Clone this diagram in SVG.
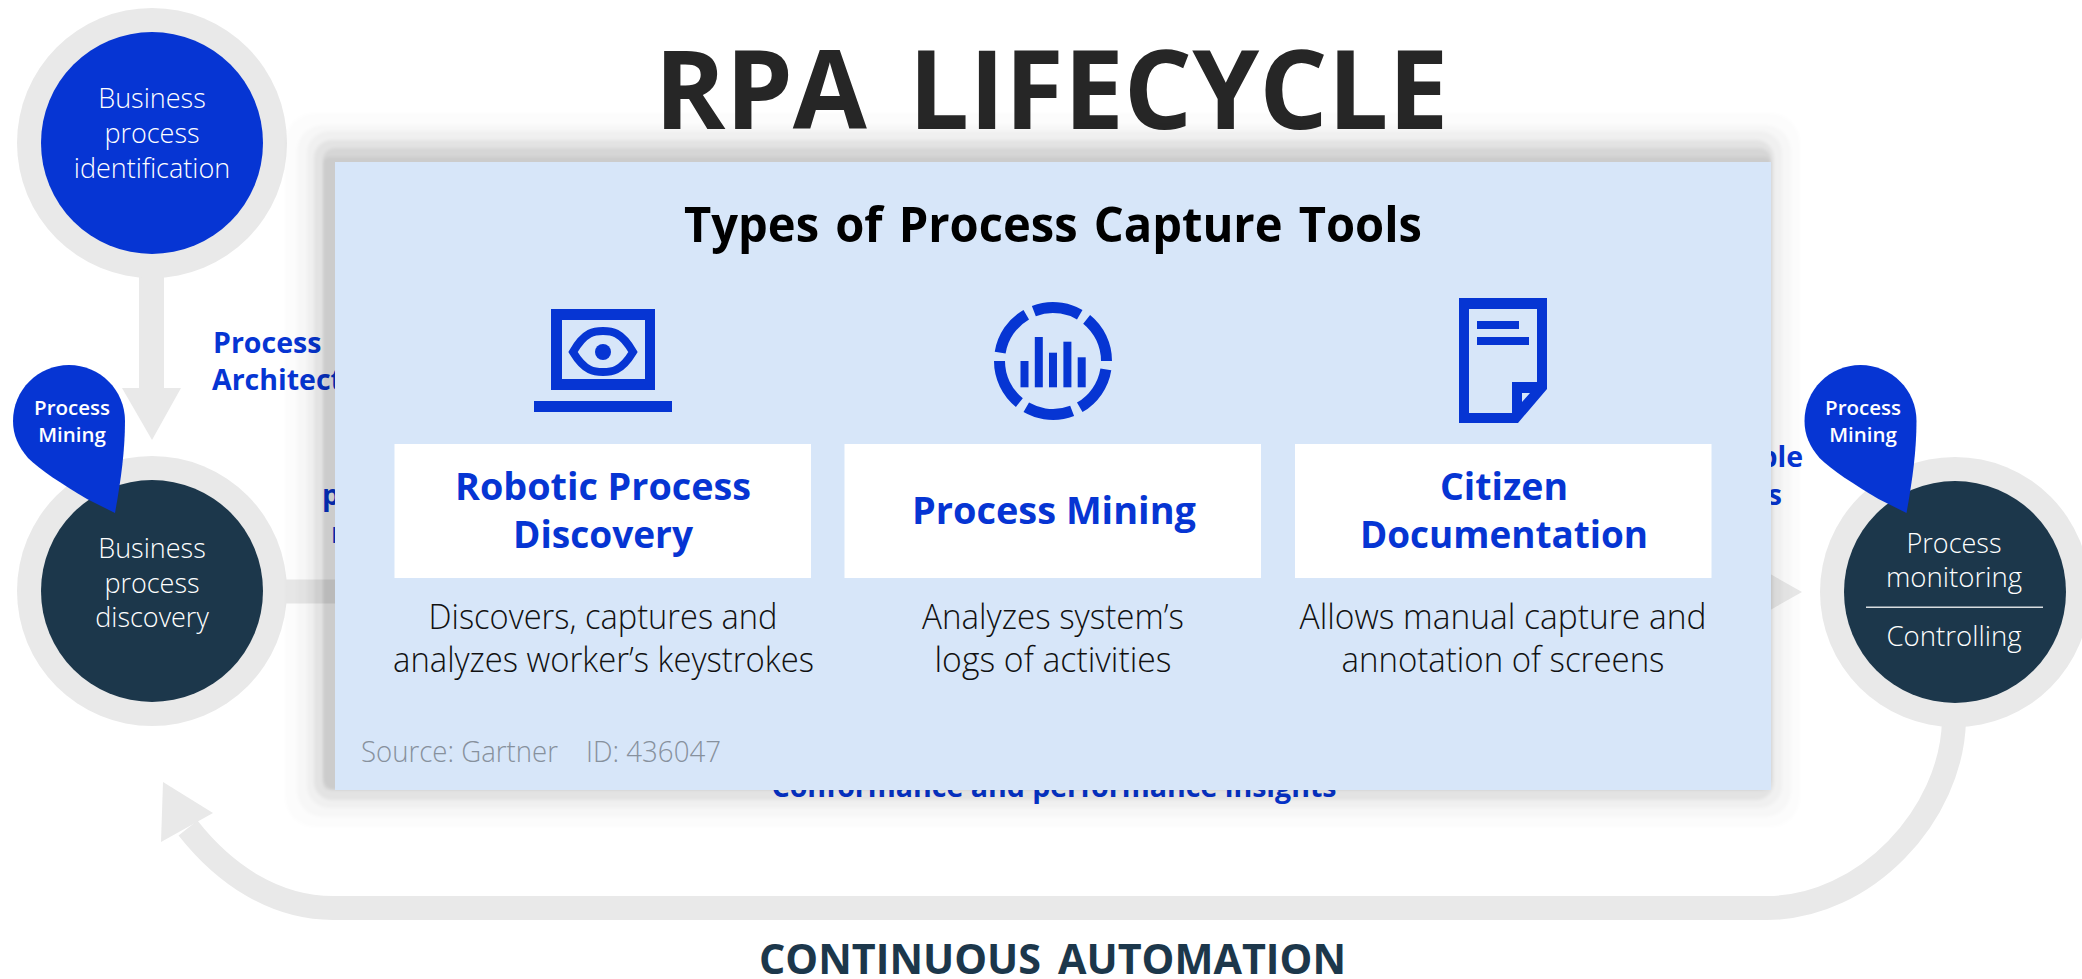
<svg xmlns="http://www.w3.org/2000/svg" width="2082" height="979" viewBox="0 0 2082 979">
<style>
text{font-family:"Open Sans","Noto Sans","Liberation Sans",sans-serif;text-anchor:middle}
.ring{fill:#e9e9e9}
.lbl{font-size:27px;font-weight:300;fill:#fff}
.pin{fill:#0635d3}
.pt{font-size:20.5px;font-weight:600;fill:#fff}
.blue{fill:#0635d3;font-weight:700}
.hid{font-size:28.5px}
.bt{font-size:38px;font-weight:700;fill:#0635d3}
.box{fill:#fff}
.desc{font-size:34px;font-weight:300;fill:#111}
.ic{fill:#0635d3}
.sh{fill:#000}
.src{font-size:29px;font-weight:300;fill:#87919d;text-anchor:start}
</style>
<defs>
<path id="pinshape" d="M115,513 L87,499 C62,484 40,470 28,458 C18,446 13,435 13,421 C13,390 38,365 69,365 C100,365 125,390 125,421 C125,450 121,480 115,513 Z"/>
<filter id="soft" x="-5%" y="-5%" width="110%" height="110%"><feGaussianBlur stdDeviation="1.500"/></filter>
</defs>
<g id="connectors" fill="#e9e9e9">
<polygon points="139,270 164,270 164,388 181,388 152,440 122,388 139,388"/>
<rect x="280" y="579.500" width="1475" height="24"/>
<polygon points="1750,562.500 1750,621.500 1802,592"/>
<path d="M1954,720 C1952,815 1865,908 1767,908 L333,908 C275,908 225,875 188,828" fill="none" stroke="#e9e9e9" stroke-width="24"/>
<polygon points="163,782 213,813 161,842"/>
</g>
<g id="title"><text x="1051.500" y="129" font-size="110" font-weight="700" fill="#262626" word-spacing="14" textLength="794" lengthAdjust="spacingAndGlyphs">RPA LIFECYCLE</text></g>
<g id="node-identification">
<circle class="ring" cx="152" cy="143" r="135"/><circle cx="152" cy="143" r="111" fill="#0635d3"/>
<text class="lbl" x="152" y="108">Business</text><text class="lbl" x="152" y="143">process</text><text class="lbl" x="152" y="178">identification</text>
</g>
<g id="node-discovery">
<circle class="ring" cx="152" cy="591" r="135"/><circle cx="152" cy="591" r="111" fill="#1c374b"/>
<text class="lbl" x="152" y="558">Business</text><text class="lbl" x="152" y="593">process</text><text class="lbl" x="152" y="627">discovery</text>
</g>
<g id="node-monitoring">
<circle class="ring" cx="1955" cy="592" r="135"/><circle cx="1955" cy="592" r="111" fill="#1c374b"/>
<text class="lbl" x="1954" y="553">Process</text><text class="lbl" x="1954" y="587" textLength="136" lengthAdjust="spacingAndGlyphs">monitoring</text>
<rect x="1866" y="606.500" width="177" height="1.500" fill="#d8dde0"/>
<text class="lbl" x="1954" y="646" textLength="135" lengthAdjust="spacingAndGlyphs">Controlling</text>
</g>
<g id="pin-left"><use href="#pinshape" class="pin"/><text class="pt" x="72" y="415">Process</text><text class="pt" x="72" y="442">Mining</text></g>
<g id="pin-right"><use href="#pinshape" class="pin" x="1791.500"/><text class="pt" x="1863" y="415">Process</text><text class="pt" x="1863" y="442">Mining</text></g>
<g id="hidden-labels">
<text class="blue hid" x="213" y="353" style="text-anchor:start">Process</text>
<text class="blue hid" x="212" y="390" style="text-anchor:start">Architect</text>
<text class="blue hid" x="322" y="505" style="text-anchor:start">p</text>
<text class="blue hid" x="331" y="543" style="text-anchor:start">r</text>
<text class="blue hid" x="1803" y="467" style="text-anchor:end">ble</text>
<text class="blue hid" x="1782" y="505" style="text-anchor:end">s</text>
<text class="blue" font-size="29" x="1054" y="797" textLength="565" lengthAdjust="spacingAndGlyphs">Conformance and performance insights</text>
</g>
<g id="panel-shadow" class="sh" filter="url(#soft)">
<rect x="285" y="113" width="1515" height="714" rx="30" opacity=".012"/>
<rect x="297" y="125" width="1494" height="692" rx="26" opacity=".022"/>
<rect x="307" y="131" width="1475" height="677" rx="22" opacity=".03"/>
<rect x="314" y="140" width="1460" height="660" rx="18" opacity=".055"/>
<rect x="323" y="148" width="1448" height="642" rx="12" opacity=".06"/>
<rect x="323" y="157" width="1448" height="633" rx="6" opacity=".05"/>
</g>
<g id="panel">
<rect x="335" y="162" width="1436" height="628" fill="#d7e6f9"/>
<text x="1053" y="242" font-size="49" font-weight="700" fill="#000" word-spacing="4" textLength="738" lengthAdjust="spacingAndGlyphs">Types of Process Capture Tools</text>
<text class="src" x="361" y="762" textLength="197" lengthAdjust="spacingAndGlyphs">Source: Gartner</text>
<text class="src" x="586" y="762" textLength="135" lengthAdjust="spacingAndGlyphs">ID: 436047</text>
</g>
<g id="tool-rpd">
<path class="ic" fill-rule="evenodd" d="M551,309 H655 V390 H551 Z M562,320 V379 H645 V320 Z"/>
<rect class="ic" x="534" y="401" width="138" height="11"/>
<path d="M573,352 C585,331 595,331 603,331 C611,331 621,331 633,352 C621,372 611,372 603,372 C595,372 585,372 573,352 Z" fill="none" stroke="#0635d3" stroke-width="8"/>
<circle class="ic" cx="603" cy="352" r="8"/>
<rect class="box" x="394.500" y="444" width="416.500" height="134"/>
<text class="bt" x="603" y="500" textLength="296" lengthAdjust="spacingAndGlyphs">Robotic Process</text><text class="bt" x="603" y="548" textLength="180" lengthAdjust="spacingAndGlyphs">Discovery</text>
<text class="desc" x="603" y="629" textLength="349" lengthAdjust="spacingAndGlyphs">Discovers, captures and</text><text class="desc" x="603.500" y="672" textLength="421" lengthAdjust="spacingAndGlyphs">analyzes worker’s keystrokes</text>
</g>
<g id="tool-mining">
<circle cx="1053" cy="361" r="53.500" fill="none" stroke="#0635d3" stroke-width="11" pathLength="360" stroke-dasharray="51 9" transform="rotate(9 1053 361)"/>
<rect class="ic" x="1020.500" y="361" width="8" height="26.300"/>
<rect class="ic" x="1034.800" y="337" width="8" height="50.300"/>
<rect class="ic" x="1049" y="352.700" width="8" height="34.600"/>
<rect class="ic" x="1063.400" y="341.700" width="8" height="45.600"/>
<rect class="ic" x="1077.700" y="357.300" width="8" height="30"/>
<rect class="box" x="844.500" y="444" width="416.500" height="134"/>
<text class="bt" x="1054" y="524" textLength="284" lengthAdjust="spacingAndGlyphs">Process Mining</text>
<text class="desc" x="1053" y="629" textLength="262" lengthAdjust="spacingAndGlyphs">Analyzes system’s</text><text class="desc" x="1053" y="672" textLength="237" lengthAdjust="spacingAndGlyphs">logs of activities</text>
</g>
<g id="tool-citizen">
<path class="ic" fill-rule="evenodd" d="M1459,298 H1547 V389 L1518,423 H1459 Z M1469,309 V413 H1512 V382 H1537 V309 Z M1522,393 V402 L1530,393 Z"/>
<rect class="ic" x="1477" y="321" width="42" height="8"/>
<rect class="ic" x="1477" y="337" width="52" height="8"/>
<rect class="box" x="1295" y="444" width="416.500" height="134"/>
<text class="bt" x="1504" y="500" textLength="128" lengthAdjust="spacingAndGlyphs">Citizen</text><text class="bt" x="1504" y="548" textLength="288" lengthAdjust="spacingAndGlyphs">Documentation</text>
<text class="desc" x="1503" y="629" textLength="407" lengthAdjust="spacingAndGlyphs">Allows manual capture and</text><text class="desc" x="1503" y="672" textLength="323" lengthAdjust="spacingAndGlyphs">annotation of screens</text>
</g>
<g id="footer"><text x="1052.500" y="974" font-size="41" font-weight="700" fill="#1c374b" word-spacing="6" textLength="587" lengthAdjust="spacingAndGlyphs">CONTINUOUS AUTOMATION</text></g>
</svg>
